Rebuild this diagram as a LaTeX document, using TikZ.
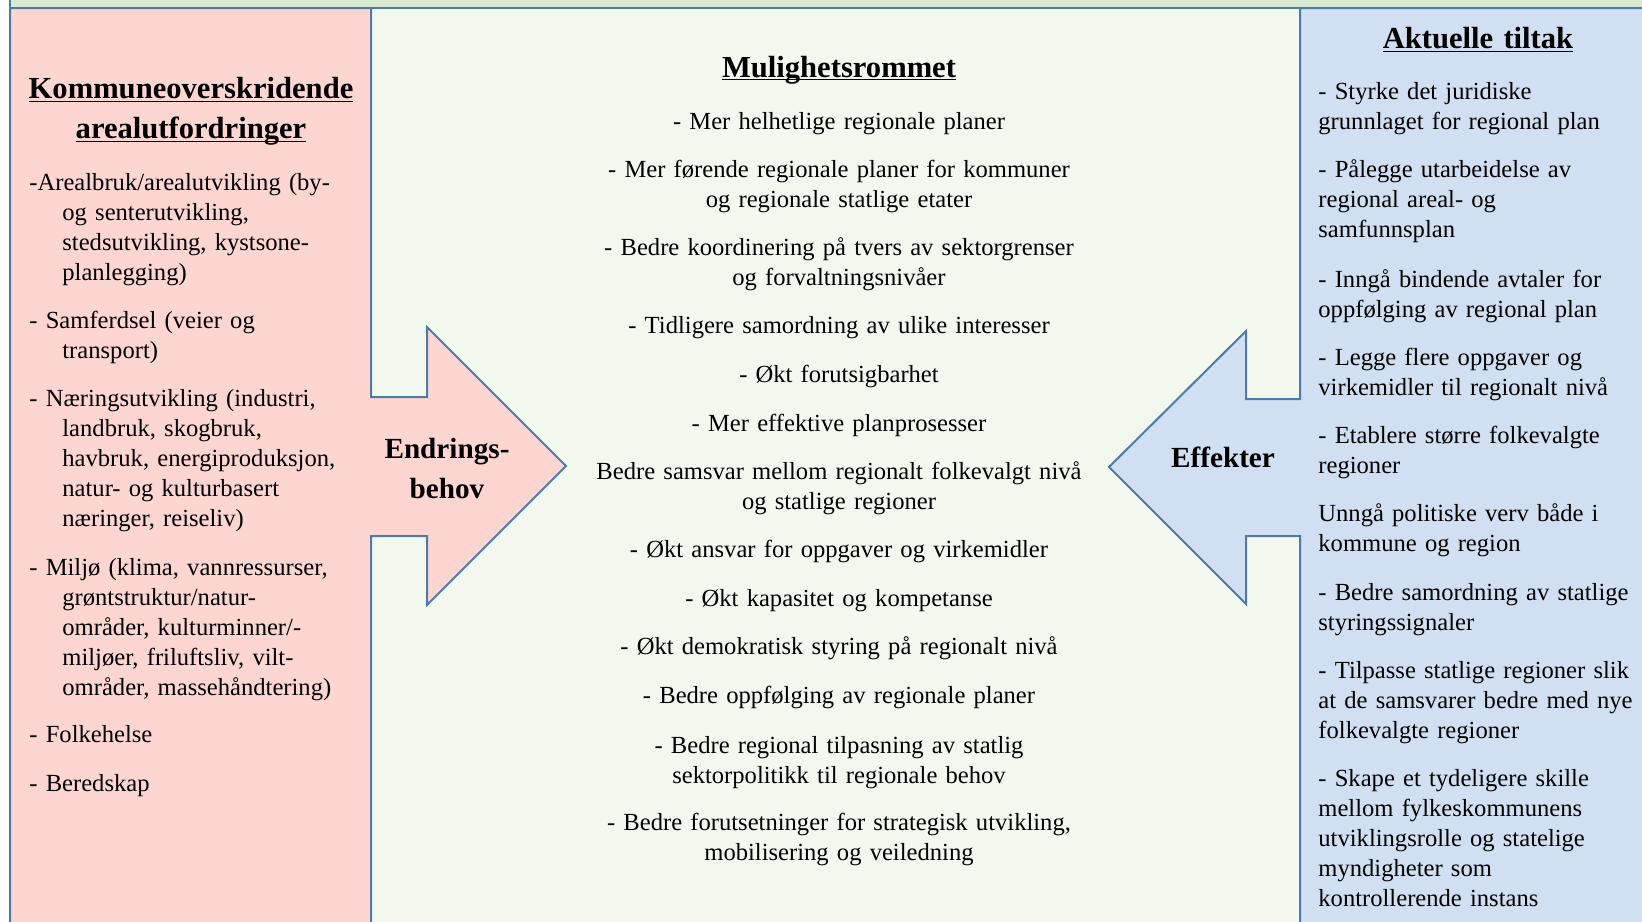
\documentclass[tikz,border=0pt]{standalone}
\usepackage{fontspec}
\setmainfont{Liberation Serif}
\definecolor{pinkfill}{RGB}{253,214,210}
\definecolor{bluefill}{RGB}{208,224,242}
\definecolor{midfill}{RGB}{243,248,239}
\definecolor{topfill}{RGB}{217,234,211}
\definecolor{edge}{RGB}{79,122,168}
\newcommand{\undr}[1]{\underline{\smash{#1}}}
\newcommand{\indt}{\hspace*{16.5pt}}

\begin{document}
\begin{tikzpicture}[x=0.5pt, y=-0.5pt,
  txt/.style={font=\fontsize{12.3}{15}\selectfont, inner sep=0pt, text width=168pt, align=left, anchor=base west},
  mid/.style={font=\fontsize{12.3}{15}\selectfont, inner sep=0pt, text width=270pt, align=center, anchor=base},
  ttl/.style={font=\fontsize{15.3}{20}\selectfont\bfseries, inner sep=0pt, text width=180pt, align=center, anchor=base},
  lbl/.style={font=\fontsize{14.6}{20}\selectfont\bfseries, inner sep=0pt, text width=80pt, align=center, anchor=base},
  outline/.style={draw=edge, line width=1pt, miter limit=10}]
\useasboundingbox (0,0) rectangle (1642,921);
% backgrounds
\fill[topfill] (10,-5) rectangle (1650,8);
\fill[midfill] (371,8) rectangle (1300,930);
% left column with arrow
\filldraw[fill=pinkfill, outline] (10,930) -- (10,8) -- (371,8) -- (371,397) -- (427,397) -- (427,327) -- (566,466) -- (427,605) -- (427,536) -- (371,536) -- (371,930);
% right column with arrow
\filldraw[fill=bluefill, outline] (1650,8) -- (1300,8) -- (1300,399) -- (1246,399) -- (1246,331) -- (1109,467) -- (1246,604) -- (1246,536) -- (1300,536) -- (1300,930) -- (1650,930);
\draw[outline] (10,0) -- (10,8) -- (1650,8);
% arrow labels
\node[lbl] (endr) at (447,458.7){Endrings-\\behov};
\node[lbl] (eff) at (1223,467){Effekter};
% left column
\node[ttl] (ltitle) at (191,98.7){\undr{Kommuneoverskridende}\\\undr{arealutfordringer}};
\node[txt] (l1) at (29,190.5){-Arealbruk/arealutvikling (by-\\\indt og senterutvikling,\\\indt stedsutvikling, kystsone-\\\indt planlegging)};
\node[txt] (l2) at (29,328.5){- Samferdsel (veier og\\\indt transport)};
\node[txt] (l3) at (29,406.5){- Næringsutvikling (industri,\\\indt landbruk, skogbruk,\\\indt havbruk, energiproduksjon,\\\indt natur- og kulturbasert\\\indt næringer, reiseliv)};
\node[txt] (l4) at (29,575){- Miljø (klima, vannressurser,\\\indt grøntstruktur/natur-\\\indt områder, kulturminner/-\\\indt miljøer, friluftsliv, vilt-\\\indt områder, massehåndtering)};
\node[txt] (l5) at (29,742.5){- Folkehelse};
\node[txt] (l6) at (29,791.5){- Beredskap};
% middle column
\node[ttl] (mtitle) at (839,77){\undr{Mulighetsrommet}};
\node[mid] (m1) at (839,129){- Mer helhetlige regionale planer};
\node[mid] (m2) at (839,177){- Mer førende regionale planer for kommuner\\og regionale statlige etater};
\node[mid] (m3) at (839,255.5){- Bedre koordinering på tvers av sektorgrenser\\og forvaltningsnivåer};
\node[mid] (m4) at (839,333){- Tidligere samordning av ulike interesser};
\node[mid] (m5) at (839,382){- Økt forutsigbarhet};
\node[mid] (m6) at (839,431.5){- Mer effektive planprosesser};
\node[mid] (m7) at (839,479.5){Bedre samsvar mellom regionalt folkevalgt nivå\\og statlige regioner};
\node[mid] (m8) at (839,557){- Økt ansvar for oppgaver og virkemidler};
\node[mid] (m9) at (839,606.5){- Økt kapasitet og kompetanse};
\node[mid] (m10) at (839,654.5){- Økt demokratisk styring på regionalt nivå};
\node[mid] (m11) at (839,703.5){- Bedre oppfølging av regionale planer};
\node[mid] (m12) at (839,753){- Bedre regional tilpasning av statlig\\sektorpolitikk til regionale behov};
\node[mid] (m13) at (839,830.5){- Bedre forutsetninger for strategisk utvikling,\\mobilisering og veiledning};
% right column
\node[ttl] (rtitle) at (1478,48.7){\undr{Aktuelle tiltak}};
\node[txt] (r1) at (1318,99.5){- Styrke det juridiske\\grunnlaget for regional plan};
\node[txt] (r2) at (1318,177.5){- Pålegge utarbeidelse av\\regional areal- og\\samfunnsplan};
\node[txt] (r3) at (1318,287){- Inngå bindende avtaler for\\oppfølging av regional plan};
\node[txt] (r4) at (1318,365.5){- Legge flere oppgaver og\\virkemidler til regionalt nivå};
\node[txt] (r5) at (1318,443){- Etablere større folkevalgte\\regioner};
\node[txt] (r6) at (1318,521.5){Unngå politiske verv både i\\kommune og region};
\node[txt] (r7) at (1318,600){- Bedre samordning av statlige\\styringssignaler};
\node[txt] (r8) at (1318,678){- Tilpasse statlige regioner slik\\at de samsvarer bedre med nye\\folkevalgte regioner};
\node[txt] (r9) at (1318,786.5){- Skape et tydeligere skille\\mellom fylkeskommunens\\utviklingsrolle og statelige\\myndigheter som\\kontrollerende instans};
\end{tikzpicture}
\end{document}
